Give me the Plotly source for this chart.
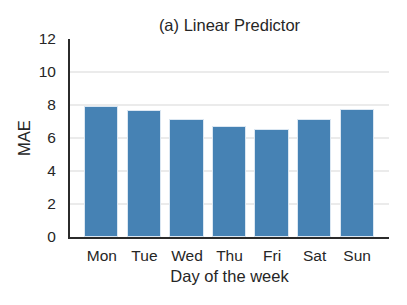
import plotly.graph_objects as go

days = ["Mon", "Tue", "Wed", "Thu", "Fri", "Sat", "Sun"]
mae = [7.88, 7.65, 7.07, 6.68, 6.48, 7.11, 7.70]
y_ticks = [0, 2, 4, 6, 8, 10, 12]

FONT = "Liberation Sans, Arial, sans-serif"
TXT = "#262626"

# the page body has an 8px default margin, so the figure is sized to fit the window
W, H = 399, 297

fig = go.Figure(go.Bar(
    x=list(range(len(days))), y=mae, width=0.78,
    marker=dict(color="#4682B4", line=dict(color="#dbe7f2", width=1)),
))

fig.update_layout(
    width=W, height=H,
    margin=dict(l=62, r=18, t=31, b=68, autoexpand=False),
    paper_bgcolor="white", plot_bgcolor="white",
    font=dict(family=FONT, size=15.5, color=TXT),
    showlegend=False,
    title=dict(text="(a) Linear Predictor", x=0.5, xanchor="center",
               xref="paper", y=1 - 17 / H, yref="container", yanchor="middle",
               font=dict(size=16.5, color=TXT)),
    bargap=0,
)
fig.update_xaxes(
    range=[-0.75, 6.75], tickmode="array", tickvals=list(range(len(days))), ticktext=days,
    showgrid=False, showline=True, linecolor="#2b2b2b", linewidth=2,
    ticks="outside", ticklen=3, tickcolor="rgba(0,0,0,0)",
    title=dict(text="Day of the week", font=dict(size=16.5), standoff=8),
    zeroline=False, automargin=False,
)
fig.update_yaxes(
    range=[0, 12], tickmode="array", tickvals=y_ticks,
    showgrid=True, gridcolor="#EBEBEB", gridwidth=2,
    showline=True, linecolor="#2b2b2b", linewidth=2,
    ticks="outside", ticklen=9, tickcolor="rgba(0,0,0,0)",
    title=dict(text="MAE", font=dict(size=16.5), standoff=4),
    zeroline=False, automargin=False,
)
fig.write_html("out.html")
